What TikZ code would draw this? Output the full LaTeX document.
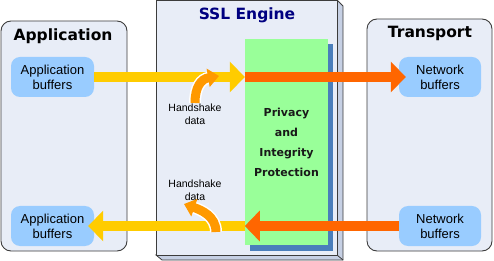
\documentclass[tikz,border=0pt]{standalone}
\usepackage{fontspec}
\setmainfont{Liberation Sans}
\newfontfamily\judulfont{DejaVu Sans}
\usetikzlibrary{arrows.meta}

\definecolor{kotak}{RGB}{232,237,247}
\definecolor{garis}{RGB}{60,60,60}
\definecolor{sisi}{RGB}{198,208,228}
\definecolor{buffer}{RGB}{153,204,255}
\definecolor{hijau}{RGB}{153,255,153}
\definecolor{bayang}{RGB}{74,126,187}
\definecolor{kuning}{RGB}{255,204,0}
\definecolor{jingga}{RGB}{255,102,0}
\definecolor{oranye}{RGB}{255,153,0}
\definecolor{navy}{RGB}{0,0,128}

\begin{document}
\begin{tikzpicture}[x=1pt, y=-1pt, >={Triangle[length=15pt,width=30pt]},
    wadah/.style={draw=garis, fill=kotak, rounded corners=10pt, line width=0.9pt, inner sep=0pt},
    buf/.style={fill=buffer, rounded corners=9pt, minimum width=83pt, minimum height=40pt,
        inner sep=0pt, align=center, font=\fontsize{13}{15}\selectfont},
    judul/.style={font=\judulfont\bfseries\fontsize{15.5}{18}\selectfont},
    panah/.style={line width=10pt, ->},
    jabat/.style={align=center, font=\fontsize{10.5}{12.5}\selectfont},
    lengkung/.style={line width=9pt, oranye, -{Triangle[length=11pt,width=18pt]}}]

    \useasboundingbox (0,0) rectangle (494,261);

    % Wadah luar
    \node[wadah, minimum width=126pt, minimum height=230pt] (app) at (64,136) {};
    \node[wadah, minimum width=125pt, minimum height=232pt] (trans) at (429.5,135) {};

    % Mesin SSL (kotak bersisi tebal)
    \filldraw[fill=sisi, draw=garis, line width=0.8pt]
        (337,0) -- (343,6) -- (343,260) -- (162,260) -- (156,255) -- (337,255) -- cycle;
    \draw[garis, line width=0.8pt] (337,255) -- (343,260);
    \node[draw=garis, fill=kotak, line width=0.8pt, inner sep=0pt,
        minimum width=181pt, minimum height=255pt] (ssl) at (246.5,127.5) {};

    % Proteksi (hijau dengan bayangan biru)
    \node[fill=bayang, inner sep=0pt, minimum width=83pt, minimum height=207pt] (bayangan) at (291.5,147.5) {};
    \node[fill=hijau, inner sep=0pt, minimum width=83pt, minimum height=206pt, align=center,
        font=\judulfont\bfseries\fontsize{11}{20}\selectfont, text=black!90] (prot) at (286.5,142)
        {Privacy\\and\\Integrity\\Protection};

    % Judul
    \node[judul] (tApp) at (63,36) {Application};
    \node[judul, text=navy] (tSSL) at (247,15) {SSL Engine};
    \node[judul] (tTrans) at (430,33) {Transport};

    % Buffer
    \node[buf] (abA) at (52.5,77) {Application\\buffers};
    \node[buf] (abB) at (52.5,226) {Application\\buffers};
    \node[buf, minimum width=82pt] (nbA) at (440,77) {Network\\buffers};
    \node[buf, minimum width=82pt] (nbB) at (440,226) {Network\\buffers};

    % Aliran data
    \draw[panah, kuning] (abA.east) -- (abA.east -| prot.west);
    \draw[panah, jingga, shorten >=-7pt] (abA.east -| prot.west) -- (nbA.west);
    \draw[panah, jingga] (nbB.west) -- (nbB.west -| prot.west);
    \draw[panah, kuning, shorten >=-6pt] (nbB.west -| prot.west) -- (abB.east);

    % Data jabat tangan
    \node[jabat] (hsA) at (195,114) {Handshake\\data};
    \node[jabat] (hsB) at (195,190) {Handshake\\data};
    \coordinate (hA1) at (195,103);
    \coordinate (hA2) at (219,76);
    \coordinate (hB1) at (216,232);
    \coordinate (hB2) at (184,204);
    \draw[white, line width=12pt, shorten >=10pt] (hA1) .. controls (195,87) and (201,79) .. (hA2);
    \draw[lengkung] (hA1) .. controls (195,87) and (201,79) .. (hA2);
    \draw[white, line width=12pt, shorten >=10pt] (hB1) .. controls (216,216) and (201,210) .. (hB2);
    \draw[lengkung] (hB1) .. controls (216,216) and (201,210) .. (hB2);

\end{tikzpicture}
\end{document}
